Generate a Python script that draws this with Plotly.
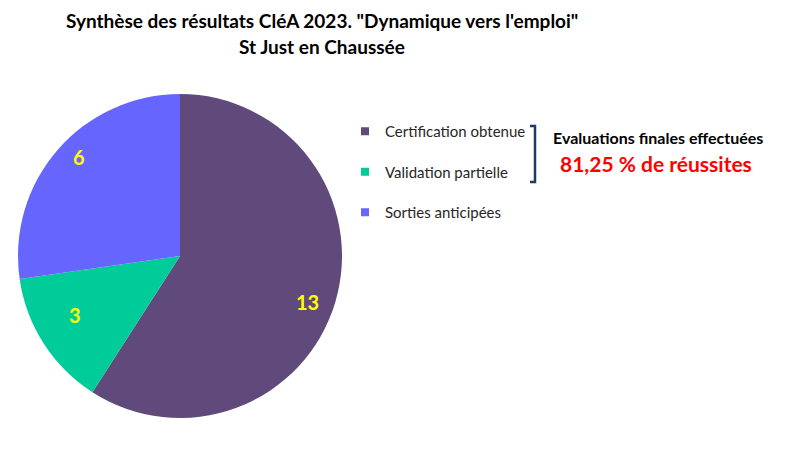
import math
import plotly.graph_objects as go

categories = ["Certification obtenue", "Validation partielle", "Sorties anticipées"]
values = [13, 3, 6]
colors = ["#604A7B", "#00CC99", "#6666FF"]
title_lines = ["Synthèse des résultats CléA 2023. \"Dynamique vers l'emploi\"", "St Just en Chaussée"]

W, H = 787, 454
FONT = "Lato"
cx, cy, r = 180, 256, 162
label_radius = [0.84, 0.74, 0.87]   # radial placement of value labels (fraction of radius)
label_turn = 3.5                     # degrees of extra clockwise turn for labels

success = values[0] / (values[0] + values[1]) * 100
success_txt = f"{success:.2f}".replace(".", ",") + " % de réussites"

fig = go.Figure()
fig.add_trace(go.Pie(
    labels=categories, values=values, sort=False, direction="clockwise", rotation=0,
    marker=dict(colors=colors, line=dict(width=0)),
    textinfo="none", showlegend=False, hoverinfo="label+value",
    domain=dict(x=[(cx - r) / W, (cx + r) / W], y=[1 - (cy + r) / H, 1 - (cy - r) / H]),
))

# legend entries via dummy traces so that the legend spacing can be controlled
for i, (c, col) in enumerate(zip(categories, colors)):
    fig.add_trace(go.Scatter(
        x=[None], y=[None], mode="markers", name=c, legendgroup=f"g{i}",
        marker=dict(symbol="square", size=8, color=col),
    ))

# value labels positioned from slice angles
total = sum(values)
annotations = []
cum = 0
for v, fr in zip(values, label_radius):
    mid = (cum + v / 2) / total * 2 * math.pi + math.radians(label_turn)
    cum += v
    px = cx + fr * r * math.sin(mid)
    py = cy - fr * r * math.cos(mid)
    annotations.append(dict(
        x=px / W, y=1 - py / H, xref="paper", yref="paper", text=f"<b>{v}</b>",
        xanchor="center", yanchor="middle",
        showarrow=False, font=dict(family=FONT, size=20, color="#FFFF00"),
    ))

def txt(x, y, s, size, color):
    return dict(x=x / W, y=1 - y / H, xref="paper", yref="paper", text=s,
                xanchor="center", yanchor="middle", showarrow=False,
                font=dict(family=FONT, size=size, color=color))

annotations += [
    txt(322, 20, f"<b>{title_lines[0]}</b>", 19, "#000000"),
    txt(322, 46, f"<b>{title_lines[1]}</b>", 19, "#000000"),
    txt(658, 137, "<b>Evaluations finales effectuées</b>", 16, "#000000"),
    txt(656, 163, f"<b>{success_txt}</b>", 21, "#FF0000"),
]

bx0, bx1, by0, by1 = 530 / W, 535 / W, 1 - 126 / H, 1 - 182 / H
fig.add_shape(type="path", xref="paper", yref="paper",
              path=f"M {bx0} {by0} L {bx1} {by0} L {bx1} {by1} L {bx0} {by1}",
              line=dict(color="#1F3864", width=2.5))

fig.update_layout(
    width=W, height=H, margin=dict(l=0, r=0, t=0, b=0),
    paper_bgcolor="white", plot_bgcolor="white",
    xaxis=dict(visible=False), yaxis=dict(visible=False),
    showlegend=True,
    legend=dict(x=345 / W, y=1 - 115 / H, xanchor="left", yanchor="top",
                font=dict(family=FONT, size=15, color="#262626"),
                tracegroupgap=18, itemwidth=30, bgcolor="rgba(0,0,0,0)"),
    annotations=annotations,
)

fig.write_html("out.html", config={"displayModeBar": False},
               post_script="document.body.style.margin='0';")
